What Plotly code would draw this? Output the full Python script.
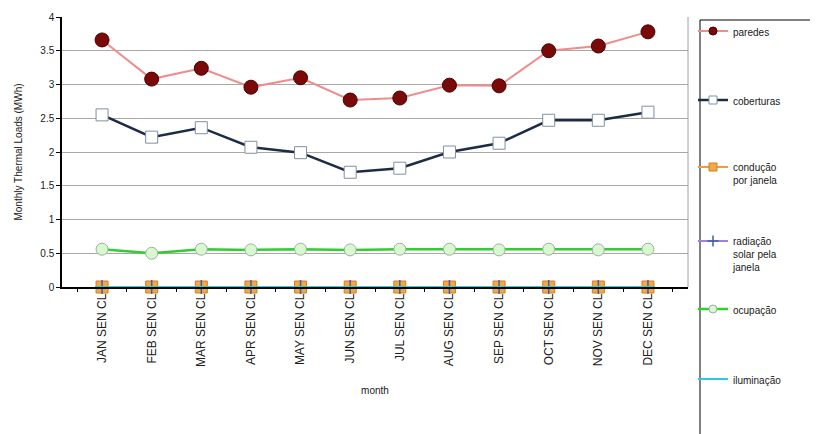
import plotly.graph_objects as go

months = ["JAN SEN CL", "FEB SEN CL", "MAR SEN CL", "APR SEN CL", "MAY SEN CL", "JUN SEN CL",
          "JUL SEN CL", "AUG SEN CL", "SEP SEN CL", "OCT SEN CL", "NOV SEN CL", "DEC SEN CL"]
paredes = [3.66, 3.08, 3.24, 2.96, 3.10, 2.77, 2.80, 2.99, 2.98, 3.50, 3.57, 3.78]
coberturas = [2.55, 2.22, 2.36, 2.07, 1.99, 1.70, 1.76, 2.00, 2.13, 2.47, 2.47, 2.59]
conducao = [0.0] * 12
radiacao = [0.0] * 12
ocupacao = [0.56, 0.50, 0.56, 0.55, 0.56, 0.55, 0.56, 0.56, 0.55, 0.56, 0.55, 0.56]
iluminacao = [0.0] * 12
y_ticks = [0, 0.5, 1, 1.5, 2, 2.5, 3, 3.5, 4]
y_tick_labels = ["0", "0.5", "1", "1.5", "2", "2.5", "3", "3.5", "4"]

FONT = "Liberation Sans, Arial, sans-serif"
OFF = 8                      # page body margin
W, H = 818 - OFF, 434 - OFF
L, R, T, B = 62 - OFF, 688 - OFF, 17 - OFF, 287 - OFF

fig = go.Figure()

legend_rows = [32, 101, 168, 242, 310, 380]   # window y of first text line
legend_ids = ["legend", "legend2", "legend3", "legend4", "legend5", "legend6"]

series = [
    ("paredes", paredes, "#F08C8C", 2,
     dict(symbol="circle", size=14, color="#7A0A0A", line=dict(color="#4A0000", width=1))),
    ("coberturas", coberturas, "#1E2B45", 2.5,
     dict(symbol="square", size=12, color="white", line=dict(color="#8090A0", width=1))),
    ("condução<br>por janela", conducao, "#F0A030", 2,
     dict(symbol="square", size=12, color="#F0A848", line=dict(color="#D08020", width=1))),
    ("radiação<br>solar pela<br>janela", radiacao, "#A080E0", 2,
     dict(symbol="cross-thin", size=10, color="#4060A0", line=dict(color="#4060A0", width=1.5))),
    ("ocupação", ocupacao, "#33CC33", 2.5,
     dict(symbol="circle", size=12, color="#D8F8D0", line=dict(color="#A0B0A0", width=1))),
    ("iluminação", iluminacao, "#30C8E8", 2,
     dict(symbol="line-ew", size=10, color="#30C8E8", line=dict(color="#30C8E8", width=2))),
]

for i, (name, y, lc, lw, mk) in enumerate(series):
    fig.add_trace(go.Scatter(
        x=months, y=y, name=name, mode="lines+markers",
        line=dict(color=lc, width=lw), marker=mk,
        cliponaxis=False, showlegend=False,
    ))
for i, (name, y, lc, lw, mk) in enumerate(series):
    small = dict(mk)
    small["size"] = 8 if mk["symbol"] != "line-ew" else 6
    fig.add_trace(go.Scatter(
        x=[None], y=[None], name=name, mode="lines+markers",
        line=dict(color=lc, width=lw), marker=small,
        showlegend=True, legend=legend_ids[i], hoverinfo="skip",
    ))

layout_legends = {}
for lid, py in zip(legend_ids, legend_rows):
    layout_legends[lid] = dict(
        xref="container", yref="container",
        x=(693 - OFF) / W, xanchor="left",
        y=1 - (py - OFF - 14) / H, yanchor="top",
        valign="top",
        font=dict(family=FONT, size=10, color="#202020"),
        bgcolor="rgba(0,0,0,0)", borderwidth=0,
        itemwidth=30,
    )

fig.update_layout(
    width=W, height=H,
    margin=dict(l=L, r=W - R, t=T, b=H - B, autoexpand=False),
    paper_bgcolor="white", plot_bgcolor="white",
    font=dict(family=FONT, size=10, color="#202020"),
    showlegend=True,
    xaxis=dict(
        type="category", tickangle=-90, automargin=False,
        showline=True, linecolor="black", linewidth=1.5,
        ticks="outside", ticklen=3, tickcolor="black", tickson="boundaries",
        showgrid=False, zeroline=False,
        title=dict(text="month", font=dict(size=10), standoff=21),
        tickfont=dict(size=12),
    ),
    yaxis=dict(
        range=[0, 4], tickvals=y_ticks, ticktext=y_tick_labels, automargin=False,
        showline=True, linecolor="black", linewidth=1.5,
        ticks="outside", ticklen=4, tickcolor="black",
        showgrid=True, gridcolor="#A8A8A8", gridwidth=1,
        zeroline=False,
        title=dict(text="Monthly Thermal Loads (MWh)", font=dict(size=10), standoff=16),
        tickfont=dict(size=10),
    ),
    shapes=[
        dict(type="line", xref="paper", yref="paper", x0=1, x1=1, y0=0, y1=1,
             line=dict(color="#A0A0A0", width=1)),
        dict(type="rect", xref="paper", yref="paper",
             x0=(700 - 62) / (688 - 62), x1=(830 - 62) / (688 - 62),
             y0=(287 - 440) / (287 - 17), y1=(287 - 20) / (287 - 17),
             line=dict(color="black", width=1), fillcolor="rgba(0,0,0,0)"),
    ],
    **layout_legends,
)

fig.write_html("out.html")
